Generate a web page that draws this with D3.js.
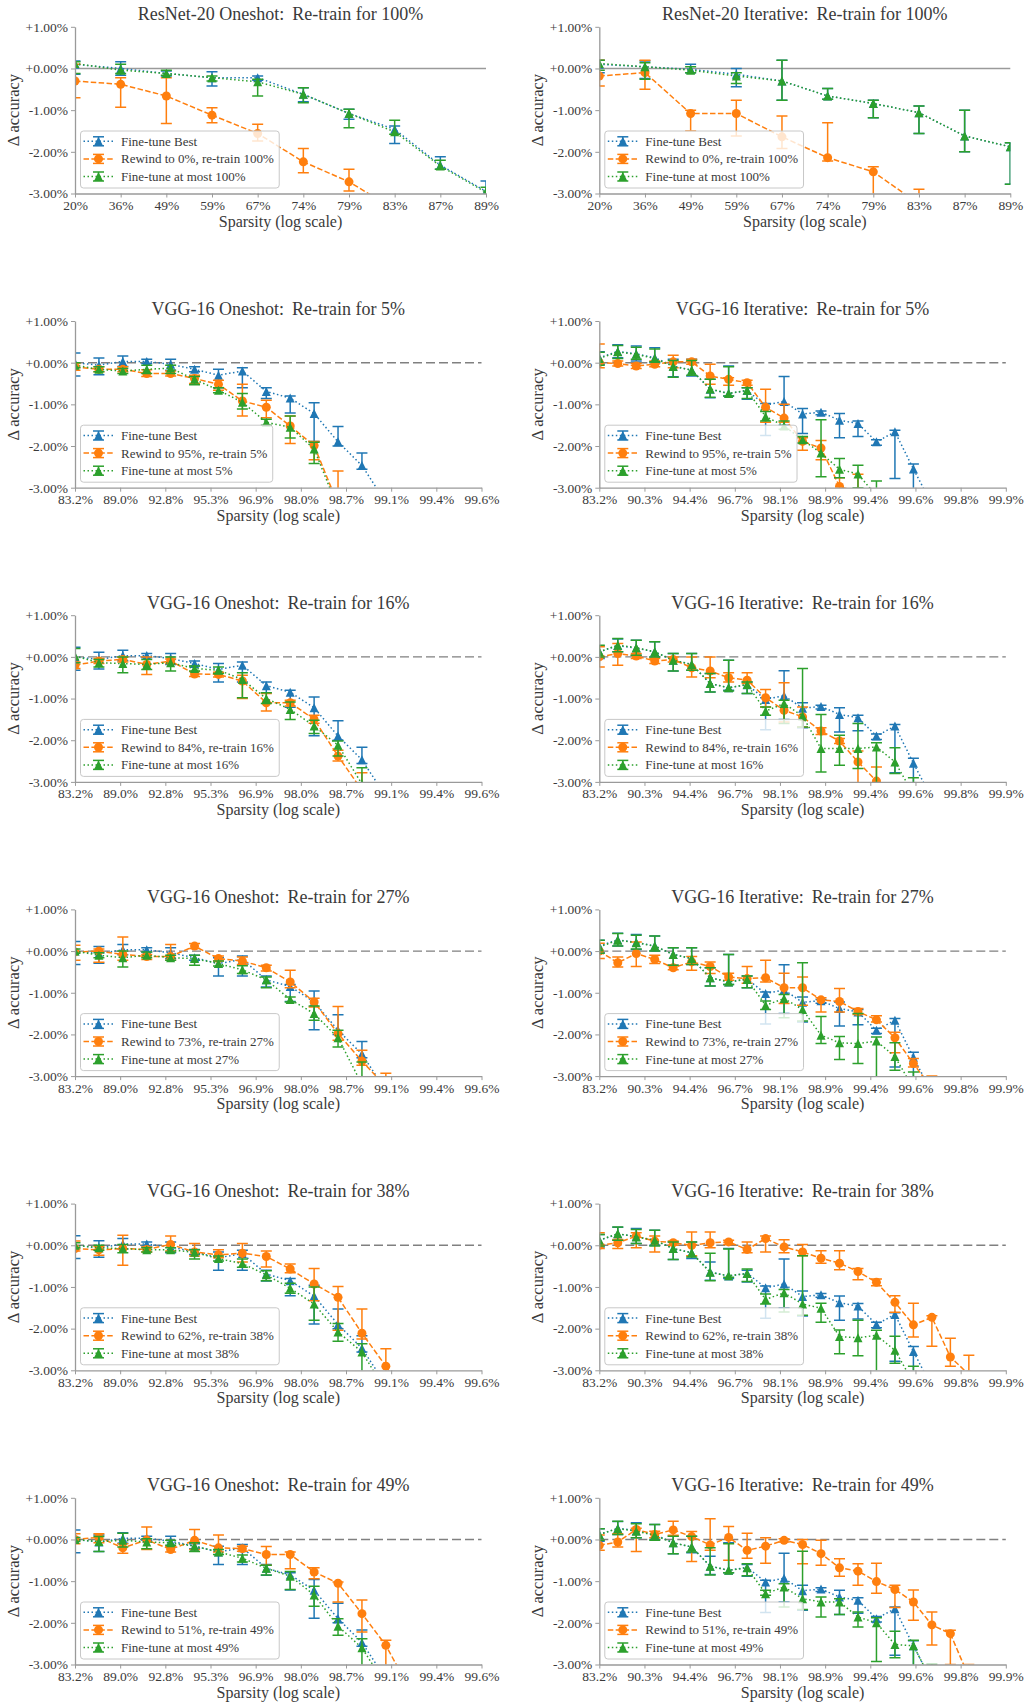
<!DOCTYPE html>
<html><head><meta charset="utf-8">
<script src="https://cdn.jsdelivr.net/npm/d3@7"></script>
<style>
body{margin:0;background:#fff}
svg text{font-family:"Liberation Serif","Times New Roman",serif !important;fill:#3a3a3a}
</style>
</head><body><script>
// ---------- tick labels ----------
const resnetTicks = ["20%","36%","49%","59%","67%","74%","79%","83%","87%","89%"];
const vggOsTicks  = ["83.2%","89.0%","92.8%","95.3%","96.9%","98.0%","98.7%","99.1%","99.4%","99.6%"];
const vggItTicks  = ["83.2%","90.3%","94.4%","96.7%","98.1%","98.9%","99.4%","99.6%","99.8%","99.9%"];
const yTickVals   = [1,0,-1,-2,-3];
const yTickLabels = ["+1.00%","+0.00%","-1.00%","-2.00%","-3.00%"];

// ---------- data: [mean, lower, upper] in % accuracy change; index = pruning iteration from start ----------
// ResNet-20 (iterations 1..10)
const rnOsBest   = [[0.1,-0.14,0.18],[0,-0.16,0.16],[-0.12,-0.18,-0.06],[-0.22,-0.42,-0.08],[-0.22,-0.28,-0.18],[-0.62,-0.8,-0.46],[-1.08,-1.22,-0.98],[-1.46,-1.8,-1.38],[-2.32,-2.42,-2.12],[-2.95,-3.1,-2.7]];
const rnOsRewind = [[-0.3,-0.7,0.1],[-0.38,-0.93,-0.22],[-0.66,-1.32,-0.22],[-1.12,-1.3,-0.94],[-1.56,-1.74,-1.34],[-2.24,-2.5,-1.92],[-2.72,-2.94,-2.42],[-3.38,-3.7,-3.1],[-4.1,-4.4,-3.8],[-4.8,-5,-4.5]];
const rnOsFt     = [[0.12,-0.12,0.16],[-0.04,-0.12,0.1],[-0.12,-0.16,-0.04],[-0.22,-0.3,-0.18],[-0.32,-0.66,-0.26],[-0.62,-0.82,-0.46],[-1.08,-1.42,-0.98],[-1.52,-1.58,-1.24],[-2.34,-2.42,-2.2],[-2.97,-3.1,-2.85]];
const rnItBest   = [[0.1,-0.1,0.2],[0.04,-0.24,0.18],[-0.02,-0.1,0.1],[-0.14,-0.44,0],[-0.3,-0.76,0.2],[-0.66,-0.74,-0.48],[-0.84,-1.18,-0.76],[-1.06,-1.56,-0.9],[-1.62,-2,-1],[-1.88,-2.78,-1.78]];
const rnItRewind = [[-0.18,-0.42,0.2],[-0.1,-0.5,0.2],[-1.08,-1.5,-1],[-1.08,-1.62,-0.76],[-1.64,-1.92,-1.14],[-2.14,-2.22,-1.3],[-2.48,-3.2,-2.36],[-3.25,-3.6,-2.9],[-4,-4.4,-3.6],[-4.6,-5,-4.2]];
const rnItFt     = [[0.12,-0.04,0.2],[0.04,-0.26,0.14],[-0.04,-0.1,0.04],[-0.18,-0.36,-0.1],[-0.3,-0.76,0.2],[-0.66,-0.74,-0.48],[-0.84,-1.18,-0.76],[-1.06,-1.56,-0.9],[-1.62,-2,-1],[-1.88,-2.78,-1.78]];

// VGG-16 (iterations from 8)
const vggOsBest = [[0,-0.32,0.23],[-0.06,-0.29,0.11],[0.03,-0.09,0.16],[0.03,-0.02,0.08],[-0.04,-0.18,0.08],[-0.16,-0.22,-0.1],[-0.3,-0.6,-0.16],[-0.2,-0.6,-0.12],[-0.69,-0.86,-0.6],[-0.85,-1.21,-0.8],[-1.22,-1.89,-0.96],[-1.9,-2,-1.53],[-2.47,-2.56,-2.17],[-3.35,-3.6,-3.1]];
const vggItBest = [[0.12,-0.04,0.26],[0.27,0.12,0.43],[0.21,0.04,0.4],[0.12,0,0.36],[-0.08,-0.34,0.08],[-0.18,-0.32,0.08],[-0.64,-0.84,-0.4],[-0.74,-0.8,-0.08],[-0.67,-0.88,-0.6],[-1.02,-1.75,-0.98],[-0.93,-1.5,-0.33],[-1.23,-1.7,-1.1],[-1.19,-1.25,-1.16],[-1.38,-1.8,-1.22],[-1.46,-1.77,-1.4],[-1.9,-1.98,-1.85],[-1.66,-2.78,-1.62],[-2.55,-3.1,-2.43],[-3.4,-3.6,-3.2]];

const vggOs5Rewind  = [[-0.1,-0.18,-0.02],[-0.16,-0.22,-0.1],[-0.16,-0.22,-0.1],[-0.26,-0.33,-0.17],[-0.26,-0.32,-0.2],[-0.38,-0.5,-0.3],[-0.52,-0.66,-0.42],[-0.92,-1.28,-0.52],[-1.07,-1.32,-0.9],[-1.52,-1.94,-1.28],[-1.99,-2.33,-1.89],[-3.4,-3.8,-2.6],[-4.5,-5,-4]];
const vggOs5Ft      = [[-0.06,-0.12,0],[-0.16,-0.22,-0.1],[-0.2,-0.26,-0.14],[-0.16,-0.26,-0.06],[-0.13,-0.26,-0.06],[-0.4,-0.53,-0.33],[-0.66,-0.72,-0.6],[-0.95,-1.11,-0.74],[-1.43,-1.5,-1.36],[-1.55,-1.81,-1.28],[-2.07,-2.42,-1.91],[-3.5,-3.9,-3.1],[-4.5,-5,-4]];
const vggOs16Rewind = [[-0.2,-0.28,-0.12],[-0.1,-0.16,-0.04],[-0.06,-0.12,0],[-0.18,-0.42,0],[-0.1,-0.16,-0.05],[-0.41,-0.47,-0.35],[-0.42,-0.48,-0.37],[-0.58,-1,-0.44],[-1.1,-1.3,-0.88],[-1.1,-1.18,-1.04],[-1.5,-1.59,-1.4],[-2.38,-2.5,-2.24],[-3.2,-3.6,-2.78],[-4.2,-4.6,-3.8]];
const vggOs16Ft     = [[0.02,-0.14,0.2],[-0.14,-0.24,-0.06],[-0.16,-0.38,0],[-0.18,-0.3,-0.06],[-0.14,-0.34,0],[-0.28,-0.34,-0.22],[-0.32,-0.4,-0.24],[-0.54,-0.98,-0.38],[-1,-1.12,-0.86],[-1.26,-1.5,-1.08],[-1.66,-1.84,-1.52],[-2.12,-2.38,-2.02],[-3.05,-3.4,-2.66],[-4,-4.4,-3.6]];
const vggOs27Rewind = [[-0.02,-0.22,0.14],[0,-0.27,0.05],[-0.08,-0.22,0.34],[-0.13,-0.2,-0.08],[-0.13,-0.22,0.16],[0.12,0.06,0.18],[-0.18,-0.24,-0.12],[-0.24,-0.32,-0.14],[-0.4,-0.48,-0.34],[-0.74,-0.88,-0.46],[-1.22,-1.34,-1.13],[-1.98,-2.14,-1.33],[-2.64,-2.74,-2.38],[-3.25,-3.6,-2.93]];
const vggOs27Ft     = [[0,-0.05,0.05],[-0.1,-0.16,-0.04],[-0.16,-0.38,0],[-0.1,-0.16,-0.02],[-0.16,-0.22,-0.1],[-0.18,-0.34,-0.1],[-0.3,-0.36,-0.24],[-0.45,-0.54,-0.35],[-0.69,-0.88,-0.62],[-1.16,-1.22,-1.1],[-1.5,-1.66,-1.32],[-2.08,-2.3,-1.9],[-3.2,-3.6,-2.66],[-4.2,-4.6,-3.8]];
const vggOs38Rewind = [[-0.08,-0.14,0.1],[-0.11,-0.24,-0.03],[-0.08,-0.48,0.24],[-0.1,-0.16,-0.04],[0.02,-0.14,0.22],[-0.16,-0.26,0.04],[-0.23,-0.3,-0.11],[-0.19,-0.4,0.04],[-0.27,-0.52,-0.14],[-0.57,-0.66,-0.45],[-0.93,-1.33,-0.56],[-1.25,-2.04,-0.99],[-2.11,-2.25,-1.53],[-2.9,-3.1,-2.48],[-3.8,-4.2,-3.4]];
const vggOs38Ft     = [[0,-0.06,0.06],[-0.06,-0.12,0],[-0.08,-0.18,0.02],[-0.11,-0.16,-0.06],[-0.11,-0.16,-0.06],[-0.17,-0.33,-0.11],[-0.32,-0.38,-0.26],[-0.44,-0.53,-0.33],[-0.71,-0.85,-0.61],[-1.03,-1.15,-0.91],[-1.41,-1.8,-1],[-2.08,-2.3,-1.88],[-2.56,-3.1,-2.36],[-3.5,-3.9,-3.1]];
const vggOs49Rewind = [[0,-0.1,0.14],[0.05,-0.08,0.14],[-0.2,-0.33,-0.1],[-0.01,-0.24,0.3],[-0.24,-0.3,-0.17],[-0.02,-0.24,0.24],[-0.2,-0.3,0.11],[-0.22,-0.28,-0.16],[-0.36,-0.62,-0.17],[-0.36,-0.7,-0.3],[-0.78,-0.94,-0.68],[-1.05,-1.5,-1.02],[-1.78,-2.22,-1.45],[-2.54,-3.1,-2.42],[-3.6,-4,-3.2]];
const vggOs49Ft     = [[0,-0.05,0.05],[-0.05,-0.29,0.07],[-0.02,-0.18,0.15],[-0.06,-0.22,0.02],[-0.08,-0.14,-0.02],[-0.16,-0.29,-0.08],[-0.3,-0.36,-0.24],[-0.45,-0.54,-0.37],[-0.69,-0.85,-0.62],[-0.88,-1.2,-0.77],[-1.33,-1.6,-1.12],[-2.08,-2.3,-1.9],[-2.6,-3.1,-2.38],[-3.5,-3.9,-3.1]];

const vggIt5Rewind  = [[0,-0.12,0.45],[-0.02,-0.08,0.04],[-0.08,-0.14,-0.02],[-0.04,-0.1,0.04],[0.02,-0.12,0.18],[0.02,-0.04,0.08],[-0.32,-0.52,-0.04],[-0.4,-0.54,-0.36],[-0.48,-0.54,-0.42],[-1.07,-1.43,-0.64],[-1.33,-1.43,-1],[-1.89,-2.1,-1.8],[-2.05,-2.33,-1.87],[-2.97,-3.2,-2.76],[-3.1,-3.5,-2.68],[-3.8,-4.2,-3.4]];
const vggIt5Ft      = [[0.1,-0.06,0.25],[0.26,0.1,0.41],[0.2,0.08,0.37],[0.1,0.02,0.33],[-0.09,-0.35,0.05],[-0.18,-0.3,0.05],[-0.63,-0.83,-0.4],[-0.74,-0.8,-0.1],[-0.66,-0.86,-0.6],[-1.29,-1.4,-1.17],[-1.52,-1.6,-1.4],[-1.85,-1.93,-1.77],[-2.17,-2.74,-1.37],[-2.56,-2.76,-2.3],[-2.67,-3,-2.46],[-3.2,-3.5,-2.84],[-4,-4.4,-3.6]];
const vggIt16Rewind = [[0,-0.24,0.24],[0.08,-0.2,0.32],[0.02,-0.04,0.08],[-0.1,-0.16,-0.04],[-0.06,-0.12,0],[-0.26,-0.48,0],[-0.34,-0.5,0],[-0.5,-0.6,-0.38],[-0.56,-0.64,-0.38],[-0.98,-1.2,-0.78],[-1.28,-1.56,-0.62],[-1.44,-1.68,-1.2],[-1.78,-1.86,-1.7],[-2.02,-2.08,-1.96],[-2.52,-3.1,-2.26],[-2.98,-3.2,-2.64],[-3.6,-4,-3.2]];
const vggIt16Ft     = [[0.12,0,0.28],[0.28,0.12,0.44],[0.22,0.04,0.4],[0.12,0,0.36],[-0.08,-0.34,0.08],[-0.18,-0.32,0.08],[-0.64,-0.84,-0.4],[-0.74,-0.82,-0.08],[-0.66,-0.88,-0.6],[-1.3,-1.4,-1.2],[-1.12,-1.6,-1.04],[-1.42,-1.68,-0.28],[-2.2,-2.76,-1.38],[-2.2,-2.6,-1.88],[-2.2,-2.68,-1.6],[-2.16,-3.1,-2.06],[-2.52,-2.8,-2.18],[-3.3,-3.7,-2.9]];
const vggIt27Rewind = [[0,-0.18,0.19],[-0.28,-0.38,-0.14],[-0.06,-0.37,0.22],[-0.2,-0.3,-0.1],[-0.4,-0.45,-0.35],[-0.26,-0.46,-0.13],[-0.37,-0.54,-0.26],[-0.62,-0.7,-0.53],[-0.66,-0.77,-0.37],[-0.64,-0.74,-0.22],[-0.88,-1.26,-0.53],[-0.88,-1.3,-0.62],[-1.17,-1.46,-1.12],[-1.21,-1.46,-0.9],[-1.45,-1.52,-1.38],[-1.65,-1.7,-1.55],[-2.08,-2.44,-1.95],[-2.7,-2.78,-2.58],[-3.3,-3.6,-3]];
const vggIt27Ft     = [[0.1,-0.05,0.26],[0.26,0.12,0.42],[0.2,0.05,0.38],[0.12,0,0.36],[-0.08,-0.34,0.08],[-0.18,-0.32,0.08],[-0.64,-0.84,-0.4],[-0.74,-0.8,-0.08],[-0.68,-0.88,-0.6],[-1.3,-1.4,-1.2],[-1.14,-1.6,-1.04],[-1.4,-1.68,-0.28],[-2.02,-2.22,-1.57],[-2.2,-2.6,-2.05],[-2.22,-2.7,-1.5],[-2.16,-3.1,-2.06],[-2.53,-2.86,-2.2],[-3.3,-3.7,-2.9]];
const vggIt38Rewind = [[0,-0.08,0.3],[0.06,-0.08,0.14],[0.22,-0.06,0.3],[0.1,-0.16,0.22],[0.06,0,0.1],[0,-0.25,0.32],[0.06,-0.06,0.32],[0.08,0.02,0.12],[-0.1,-0.18,0.08],[0.16,-0.16,0.22],[-0.04,-0.18,0.13],[-0.16,-0.25,0.02],[-0.31,-0.43,-0.13],[-0.43,-0.59,-0.13],[-0.63,-0.83,-0.56],[-0.89,-0.97,-0.81],[-1.37,-1.61,-1.21],[-1.91,-2.2,-1.39],[-1.73,-2.42,-1.69],[-2.68,-2.9,-2.23],[-3.1,-3.5,-2.64],[-4,-4.4,-3.6]];
const vggIt38Ft     = [[0.12,-0.02,0.26],[0.28,0.12,0.44],[0.2,0.04,0.38],[0.12,-0.02,0.36],[-0.08,-0.34,0.08],[-0.18,-0.28,0.08],[-0.65,-0.85,-0.19],[-0.73,-0.77,-0.09],[-0.68,-0.87,-0.57],[-1.3,-1.41,-1.17],[-1.14,-1.6,-1.06],[-1.41,-1.68,-0.25],[-1.51,-1.85,-1.39],[-2.19,-2.6,-2.03],[-2.22,-2.65,-1.8],[-2.16,-3.1,-2.04],[-2.52,-2.83,-2.18],[-3.3,-3.7,-2.9]];
const vggIt49Rewind = [[-0.14,-0.26,0.11],[-0.06,-0.18,0.14],[0.24,-0.29,0.27],[0.12,0.04,0.2],[0.23,0.1,0.44],[0.07,-0.53,0.19],[-0.13,-0.26,0.5],[0.05,-0.5,0.31],[-0.26,-0.45,0.15],[-0.16,-0.57,0.04],[-0.02,-0.06,0.02],[-0.12,-0.58,0],[-0.34,-0.62,-0.02],[-0.68,-0.88,-0.46],[-0.76,-1.1,-0.58],[-1.01,-1.29,-0.57],[-1.2,-1.63,-1.1],[-1.5,-1.94,-1.21],[-2.05,-2.53,-1.74],[-2.26,-3,-2.18],[-3.3,-3.6,-3]];
const vggIt49Ft     = [[0.12,-0.02,0.26],[0.26,0.12,0.44],[0.2,0.04,0.38],[0.1,-0.02,0.36],[-0.08,-0.34,0.08],[-0.18,-0.3,0.08],[-0.64,-0.85,-0.2],[-0.74,-0.8,-0.1],[-0.68,-0.87,-0.58],[-1.3,-1.34,-1.22],[-1.14,-1.62,-1.06],[-1.42,-1.68,-0.28],[-1.5,-1.86,-1.38],[-1.5,-1.8,-1.42],[-1.86,-2.1,-1.74],[-2,-2.93,-1.88],[-2.52,-2.84,-2.2],[-2.55,-3.1,-2.42],[-3.4,-3.8,-3]];

// ---------- panel table ----------
const retrain = ["5%","16%","27%","38%","49%"];
const rewindTo = ["95%","84%","73%","62%","51%"];
const osRewind = [vggOs5Rewind,vggOs16Rewind,vggOs27Rewind,vggOs38Rewind,vggOs49Rewind];
const osFt     = [vggOs5Ft,vggOs16Ft,vggOs27Ft,vggOs38Ft,vggOs49Ft];
const itRewind = [vggIt5Rewind,vggIt16Rewind,vggIt27Rewind,vggIt38Rewind,vggIt49Rewind];
const itFt     = [vggIt5Ft,vggIt16Ft,vggIt27Ft,vggIt38Ft,vggIt49Ft];

const panels = [
  {title:"ResNet-20 Oneshot:\u2009 Re-train for 100%", row:0, col:0, kMin:1, kMax:10, start:1, ticks:resnetTicks, res:true,
   series:[["Fine-tune Best","best",rnOsBest],["Rewind to 0%, re-train 100%","rewind",rnOsRewind],["Fine-tune at most 100%","ft",rnOsFt]]},
  {title:"ResNet-20 Iterative:\u2009 Re-train for 100%", row:0, col:1, kMin:1, kMax:10, start:1, ticks:resnetTicks, res:true,
   series:[["Fine-tune Best","best",rnItBest],["Rewind to 0%, re-train 100%","rewind",rnItRewind],["Fine-tune at most 100%","ft",rnItFt]]}
];
retrain.forEach((r,i)=>{
  panels.push({title:"VGG-16 Oneshot:\u2009 Re-train for "+r, row:i+1, col:0, kMin:8, kMax:25, start:8, ticks:vggOsTicks, res:false,
    series:[["Fine-tune Best","best",vggOsBest],["Rewind to "+rewindTo[i]+", re-train "+r,"rewind",osRewind[i]],["Fine-tune at most "+r,"ft",osFt[i]]]});
  panels.push({title:"VGG-16 Iterative:\u2009 Re-train for "+r, row:i+1, col:1, kMin:8, kMax:30, start:8, ticks:vggItTicks, res:false,
    series:[["Fine-tune Best","best",vggItBest],["Rewind to "+rewindTo[i]+", re-train "+r,"rewind",itRewind[i]],["Fine-tune at most "+r,"ft",itFt[i]]]});
});

const styles = {
  best:  {color:"#1f77b4", dash:"1.5,2.5", marker:"tri"},
  rewind:{color:"#ff7f0e", dash:"5.5,2.4", marker:"circ"},
  ft:    {color:"#2ca02c", dash:"1.5,2.5", marker:"tri"}
};

const W = 1025, H = 1703;
const svg = d3.select("body").append("svg").attr("width",W).attr("height",H);
const FONT = '"Liberation Serif","Times New Roman",serif';
const AXC = "#9a9a9a", TXT = "#3a3a3a";

function markerPath(type, s){
  if(type==="circ") return d3.symbol().type(d3.symbolCircle).size(Math.PI*s*s/4)();
  const h=s/2; return `M0,${-h}L${h},${h}L${-h},${h}Z`;
}

panels.forEach((p,pi)=>{
  const x0 = p.col===0 ? 75 : 599.3;
  const x1 = x0 + (p.res ? 411 : 406.5);
  const top = 26.8 + 294.2*p.row, bot = top + 166.7;
  const x = d3.scaleLog().domain([0.8**p.kMin, 0.8**p.kMax]).range([x0,x1]);
  const y = d3.scaleLinear().domain([-3,1]).range([bot,top]);
  const tickPos = p.ticks.map((t,i)=>0.8**(p.kMin + (p.kMax-p.kMin)*i/(p.ticks.length-1)));

  const clipId = "clip"+pi;
  svg.append("clipPath").attr("id",clipId).append("rect")
    .attr("x",x0).attr("y",top).attr("width",x1-x0).attr("height",bot-top);

  const g = svg.append("g");
  // zero reference line
  g.append("line").attr("x1",x0).attr("x2",x1).attr("y1",y(0)).attr("y2",y(0))
    .attr("stroke", p.res ? "#9a9a9a" : "#808080").attr("stroke-width", p.res?1.4:1.4)
    .attr("stroke-dasharray", p.res ? null : "9,4");

  const plot = g.append("g").attr("clip-path",`url(#${clipId})`);
  p.series.forEach(([name,type,data])=>{
    const st = styles[type];
    const pts = data.map((d,j)=>({x:x(0.8**(p.start+j)), v:d[0], lo:d[1], hi:d[2]}));
    const sg = plot.append("g");
    // error bars
    pts.forEach(d=>{
      sg.append("line").attr("x1",d.x).attr("x2",d.x).attr("y1",y(d.lo)).attr("y2",y(d.hi))
        .attr("stroke",st.color).attr("stroke-width",1.5);
      [d.lo,d.hi].forEach(e=>sg.append("line").attr("x1",d.x-5.5).attr("x2",d.x+5.5).attr("y1",y(e)).attr("y2",y(e))
        .attr("stroke",st.color).attr("stroke-width",1.5));
    });
    sg.append("path").datum(pts)
      .attr("d", d3.line().x(d=>d.x).y(d=>y(d.v)))
      .attr("fill","none").attr("stroke",st.color).attr("stroke-width",1.5).attr("stroke-dasharray",st.dash);
    sg.selectAll(".m").data(pts).enter().append("path")
      .attr("transform",d=>`translate(${d.x},${y(d.v)})`)
      .attr("d",markerPath(st.marker,9)).attr("fill",st.color);
  });

  // axes
  const ya = g.append("g").attr("transform",`translate(${x0},0)`)
    .call(d3.axisLeft(y).tickValues(yTickVals).tickFormat((d,i)=>yTickLabels[i]).tickSize(4).tickSizeOuter(0).tickPadding(3));
  const xa = g.append("g").attr("transform",`translate(0,${bot})`)
    .call(d3.axisBottom(x).tickValues(tickPos).tickFormat((d,i)=>p.ticks[i]).tickSize(4).tickSizeOuter(0).tickPadding(3));
  [ya,xa].forEach(a=>{
    a.attr("font-family",FONT).attr("font-size",13.5);
    a.select(".domain").attr("stroke",AXC).attr("stroke-width",1.3);
    a.selectAll(".tick line").attr("stroke",AXC).attr("stroke-width",1);
    a.selectAll(".tick text").attr("fill",TXT).style("font-family",FONT).style("font-size","13.5px");
  });

  // title & labels
  g.append("text").attr("x",(x0+x1)/2).attr("y",top-6.5).attr("text-anchor","middle")
    .attr("font-size",18).attr("fill",TXT).text(p.title);
  g.append("text").attr("x",(x0+x1)/2).attr("y",bot+33).attr("text-anchor","middle")
    .attr("font-size",16).attr("fill",TXT).text("Sparsity (log scale)");
  g.append("text").attr("transform",`translate(${x0-56},${(top+bot)/2}) rotate(-90)`).attr("text-anchor","middle")
    .attr("font-size",16.5).attr("fill",TXT).text("\u0394 accuracy");

  // legend
  const lg = g.append("g").attr("transform",`translate(${x0+5.5},${bot-5.5-57})`);
  const box = lg.append("rect").attr("x",0).attr("y",0).attr("height",57).attr("rx",3)
    .attr("fill","#fff").attr("fill-opacity",0.8).attr("stroke","#c8c8c8").attr("stroke-width",1);
  let maxW = 0;
  p.series.forEach(([name,type],i)=>{
    const st = styles[type];
    const cy = 10.3 + 17.6*i;
    lg.append("line").attr("x1",3).attr("x2",33).attr("y1",cy).attr("y2",cy)
      .attr("stroke",st.color).attr("stroke-width",1.5).attr("stroke-dasharray",st.dash);
    lg.append("line").attr("x1",18).attr("x2",18).attr("y1",cy-4.5).attr("y2",cy+4.5).attr("stroke",st.color).attr("stroke-width",1.5);
    [-4.5,4.5].forEach(o=>lg.append("line").attr("x1",12.5).attr("x2",23.5).attr("y1",cy+o).attr("y2",cy+o).attr("stroke",st.color).attr("stroke-width",1.5));
    lg.append("path").attr("transform",`translate(18,${cy})`).attr("d",markerPath(st.marker,9)).attr("fill",st.color);
    const t = lg.append("text").attr("x",40.5).attr("y",cy).attr("dy","0.35em").attr("font-size",13).attr("fill",TXT).text(name);
    maxW = Math.max(maxW, t.node().getComputedTextLength());
  });
  box.attr("width",40.5+maxW+5.5);
});
</script></body></html>
